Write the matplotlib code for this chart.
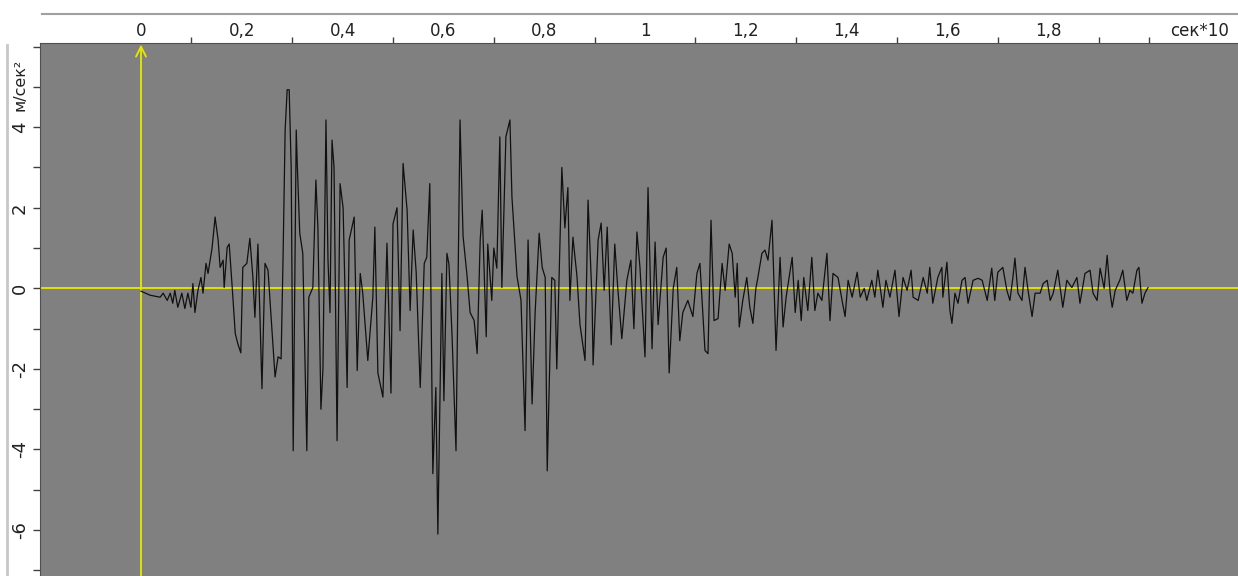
import numpy as np
import matplotlib.pyplot as plt
from matplotlib.lines import Line2D

plt.rcParams["axes.unicode_minus"] = False

# =============================================================================
# DATOS (acelerograma, tiempo en сек*10, aceleración en м/сек²)
# =============================================================================

t = [0.000, 0.018, 0.038, 0.044, 0.052, 0.058, 0.063, 0.067, 0.073, 0.081,
     0.087, 0.093, 0.099, 0.103, 0.107, 0.113, 0.119, 0.123, 0.129, 0.133,
     0.141, 0.147, 0.153, 0.157, 0.163, 0.165, 0.171, 0.175, 0.181, 0.187,
     0.192, 0.198, 0.202, 0.210, 0.216, 0.222, 0.226, 0.232, 0.240, 0.246,
     0.252, 0.256, 0.266, 0.272, 0.278, 0.282, 0.286, 0.290, 0.294, 0.298,
     0.302, 0.308, 0.310, 0.315, 0.321, 0.329, 0.333, 0.341, 0.347, 0.351,
     0.357, 0.361, 0.367, 0.371, 0.375, 0.379, 0.383, 0.389, 0.395, 0.401,
     0.409, 0.413, 0.423, 0.429, 0.435, 0.440, 0.450, 0.460, 0.464, 0.470,
     0.480, 0.488, 0.496, 0.500, 0.508, 0.514, 0.520, 0.528, 0.534, 0.540,
     0.546, 0.554, 0.562, 0.567, 0.573, 0.579, 0.585, 0.589, 0.597, 0.601,
     0.607, 0.611, 0.617, 0.625, 0.633, 0.639, 0.647, 0.653, 0.661, 0.667,
     0.673, 0.677, 0.685, 0.688, 0.696, 0.700, 0.706, 0.712, 0.716, 0.724,
     0.732, 0.736, 0.746, 0.754, 0.762, 0.768, 0.776, 0.782, 0.790, 0.796,
     0.802, 0.806, 0.815, 0.821, 0.825, 0.835, 0.841, 0.847, 0.851, 0.857,
     0.865, 0.871, 0.881, 0.887, 0.895, 0.897, 0.907, 0.913, 0.919, 0.925,
     0.933, 0.940, 0.946, 0.954, 0.964, 0.972, 0.978, 0.984, 0.990, 1.000,
     1.006, 1.014, 1.020, 1.026, 1.036, 1.042, 1.048, 1.056, 1.063, 1.069,
     1.075, 1.085, 1.095, 1.103, 1.109, 1.119, 1.125, 1.131, 1.137, 1.145,
     1.153, 1.159, 1.167, 1.173, 1.179, 1.183, 1.187, 1.194, 1.202, 1.208,
     1.214, 1.220, 1.224, 1.232, 1.238, 1.244, 1.252, 1.260, 1.268, 1.274,
     1.280, 1.292, 1.298, 1.304, 1.310, 1.315, 1.323, 1.331, 1.337, 1.343,
     1.351, 1.361, 1.367, 1.373, 1.383, 1.391, 1.397, 1.403, 1.411, 1.421,
     1.427, 1.435, 1.440, 1.450, 1.456, 1.462, 1.472, 1.478, 1.486, 1.496,
     1.504, 1.512, 1.520, 1.528, 1.532, 1.542, 1.552, 1.560, 1.565, 1.571,
     1.581, 1.589, 1.591, 1.599, 1.605, 1.609, 1.615, 1.621, 1.629, 1.635,
     1.641, 1.651, 1.661, 1.669, 1.679, 1.688, 1.694, 1.700, 1.710, 1.718,
     1.724, 1.730, 1.734, 1.740, 1.748, 1.754, 1.760, 1.768, 1.774, 1.784,
     1.790, 1.798, 1.804, 1.810, 1.819, 1.829, 1.837, 1.847, 1.857, 1.863,
     1.873, 1.883, 1.889, 1.897, 1.903, 1.911, 1.917, 1.923, 1.927, 1.933,
     1.942, 1.948, 1.956, 1.962, 1.968, 1.976, 1.980, 1.986, 1.992, 1.998]

acc = [-0.07, -0.17, -0.22, -0.12, -0.30, -0.12, -0.37, -0.05, -0.47, -0.12,
       -0.50, -0.12, -0.47, 0.12, -0.60, -0.05, 0.27, -0.12, 0.62, 0.37,
       1.00, 1.77, 1.20, 0.52, 0.70, 0.02, 1.02, 1.10, 0.02, -1.12,
       -1.37, -1.60, 0.52, 0.62, 1.24, 0.27, -0.72, 1.10, -2.49, 0.62,
       0.45, -0.30, -2.20, -1.70, -1.75, 0.87, 3.93, 4.93, 4.93, 3.00,
       -4.03, 3.93, 3.10, 1.37, 0.87, -4.03, -0.22, 0.02, 2.69, 1.50,
       -3.00, -2.00, 4.18, 0.70, -0.60, 3.68, 3.00, -3.78, 2.60, 2.00,
       -2.46, 1.20, 1.77, -2.04, 0.37, -0.12, -1.79, -0.22, 1.52, -2.10,
       -2.70, 1.12, -2.60, 1.60, 2.00, -1.05, 3.10, 1.94, -0.55, 1.45,
       0.40, -2.46, 0.62, 0.77, 2.60, -4.60, -2.46, -6.10, 0.37, -2.79,
       0.87, 0.60, -1.12, -4.03, 4.18, 1.30, 0.30, -0.60, -0.80, -1.62,
       1.20, 1.94, -1.20, 1.10, -0.30, 1.00, 0.50, 3.76, 0.02, 3.76,
       4.18, 2.27, 0.30, -0.30, -3.53, 1.20, -2.87, -0.60, 1.37, 0.52,
       0.27, -4.53, 0.27, 0.20, -2.00, 3.00, 1.50, 2.50, -0.30, 1.27,
       0.30, -0.90, -1.79, 2.19, -0.30, -1.90, 1.20, 1.62, -0.05, 1.52,
       -1.40, 1.10, 0.00, -1.25, 0.20, 0.70, -1.00, 1.40, 0.52, -1.70,
       2.50, -1.50, 1.15, -0.90, 0.77, 1.00, -2.10, 0.00, 0.52, -1.30,
       -0.60, -0.30, -0.70, 0.37, 0.62, -1.54, -1.62, 1.69, -0.80, -0.75,
       0.62, -0.05, 1.10, 0.87, -0.22, 0.62, -0.96, -0.30, 0.27, -0.47,
       -0.87, 0.00, 0.27, 0.87, 0.95, 0.70, 1.69, -1.54, 0.77, -0.96,
       -0.22, 0.77, -0.60, 0.20, -0.80, 0.27, -0.55, 0.77, -0.55, -0.12,
       -0.30, 0.87, -0.80, 0.37, 0.27, -0.30, -0.70, 0.20, -0.22, 0.40,
       -0.22, 0.00, -0.30, 0.20, -0.22, 0.45, -0.47, 0.20, -0.22, 0.45,
       -0.70, 0.27, -0.05, 0.45, -0.22, -0.30, 0.27, -0.12, 0.52, -0.37,
       0.27, 0.52, -0.22, 0.65, -0.55, -0.87, -0.12, -0.37, 0.20, 0.27,
       -0.37, 0.20, 0.25, 0.20, -0.30, 0.50, -0.30, 0.40, 0.52, -0.05,
       -0.30, 0.27, 0.75, -0.12, -0.30, 0.52, -0.05, -0.70, -0.12, -0.12,
       0.12, 0.20, -0.30, -0.12, 0.45, -0.47, 0.20, 0.02, 0.27, -0.37,
       0.37, 0.45, -0.12, -0.30, 0.50, 0.00, 0.82, -0.12, -0.47, -0.05,
       0.20, 0.45, -0.30, -0.05, -0.12, 0.45, 0.52, -0.37, -0.12, 0.02]

x_etiquetas = [0, 0.2, 0.4, 0.6, 0.8, 1.0, 1.2, 1.4, 1.6, 1.8, 2.1]
x_textos = ["0", "0,2", "0,4", "0,6", "0,8", "1", "1,2", "1,4", "1,6", "1,8", "сек*10"]
x_marcas = [0.1, 0.3, 0.5, 0.7, 0.9, 1.1, 1.3, 1.5, 1.7, 1.9, 2.0, 2.1]
y_etiquetas = [-6, -4, -2, 0, 2, 4]

AMARILLO = "#e8e800"
GRIS = "#808080"

# =============================================================================
# FIGURA
# =============================================================================

fig = plt.figure(figsize=(12.38, 5.76), dpi=100)
ax = fig.add_axes([40 / 1238, 0, 1 - 40 / 1238, 1 - 43 / 576])
ax.set_facecolor(GRIS)
ax.set_xlim(-0.2004, 2.1766)
ax.set_ylim(-7.14, 6.09)

ax.axhline(0, color=AMARILLO, lw=1.3, zorder=2)
ax.annotate("", xy=(0, 6.05), xytext=(0, -7.14),
            arrowprops=dict(arrowstyle="->", color=AMARILLO, lw=1.3,
                            mutation_scale=18, shrinkA=0, shrinkB=0),
            zorder=2, annotation_clip=False)
ax.plot(t, acc, color="#101010", lw=0.9, zorder=3)

# ejes
for s in ["right", "bottom"]:
    ax.spines[s].set_visible(False)
ax.spines["left"].set_color("#505050")
ax.spines["top"].set_color("#505050")

ax.xaxis.tick_top()
ax.set_xticks(x_etiquetas)
ax.set_xticklabels(x_textos)
ax.set_xticks(x_marcas, minor=True)
ax.tick_params(axis="x", which="major", length=0, pad=2, labelsize=12,
               labelcolor="#222222")
ax.tick_params(axis="x", which="minor", length=4, color="#404040", width=1)

ax.set_yticks(y_etiquetas)
ax.set_yticks(range(-7, 7), minor=True)
ax.tick_params(axis="y", which="both", length=5, color="#404040", width=1,
               labelsize=13, labelcolor="#222222", pad=3)
for lab in ax.get_yticklabels():
    lab.set_rotation(90)
    lab.set_va("center")

fig.text(20 / 1238, 1 - 85 / 576, "м/сек²", rotation=90, ha="center",
         va="center", fontsize=11.5, color="#222222")

# marco exterior
fig.add_artist(Line2D([42 / 1238, 1], [1 - 14 / 576, 1 - 14 / 576],
                      color="#a0a0a0", lw=1.5))
fig.add_artist(Line2D([7 / 1238, 7 / 1238], [0, 1 - 45 / 576],
                      color="#c8c8c8", lw=2))

fig.savefig("out.png", dpi=100)
